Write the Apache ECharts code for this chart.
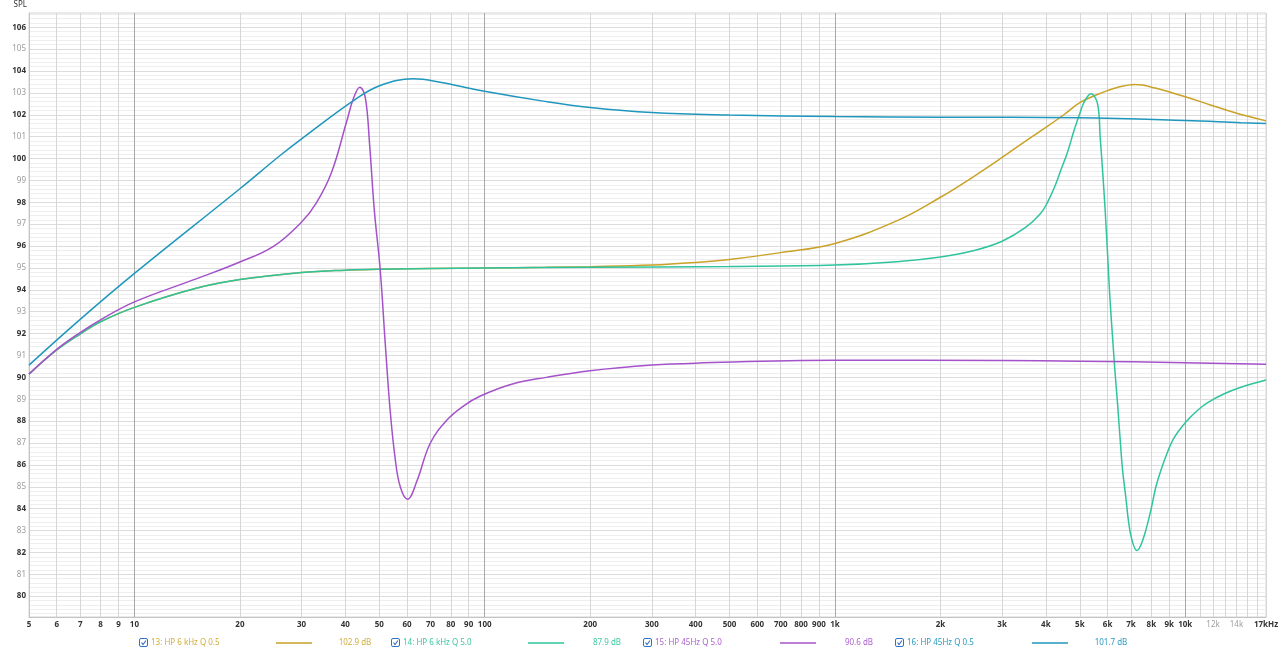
<!DOCTYPE html>
<html><head><meta charset="utf-8">
<script src="https://cdn.jsdelivr.net/npm/echarts@6/dist/echarts.min.js"></script>
<style>html,body{margin:0;padding:0;background:#fff;}#c{width:1280px;height:651px;}</style>
</head><body><div id="c"></div>
<script>
// ---- data ----
const f13 = [5,6,7,8,10,15,20,30,40,50,70,100,150,200,300,400,500,700,1000,1500,2000,2500,3000,3500,4000,4500,5000,5700,6400,7200,8200,10000,11800,13800,17000];
const db13 = [90.15,91.25,91.98,92.54,93.2,94.07,94.47,94.79,94.9,94.94,94.98,95.0,95.03,95.06,95.13,95.25,95.39,95.7,96.12,97.15,98.23,99.2,100.05,100.8,101.42,102.0,102.55,102.97,103.25,103.38,103.22,102.82,102.45,102.1,101.72];

const f14 = [5,6,7,8,10,15,20,30,40,50,100,200,500,1000,1500,2000,2500,3000,3500,3868,4043,4223,4412,4613,4815,5033,5144,5376,5618,5715,5806,5906,5999,6090,6199,6295,6406,6519,6621,6767,6870,7023,7276,7470,7720,7977,8245,8520,8906,9297,10088,10847,11586,12921,14420,17000];
const db14 = [90.15,91.25,91.98,92.54,93.2,94.07,94.47,94.79,94.9,94.94,95.0,95.03,95.07,95.13,95.28,95.5,95.8,96.22,96.85,97.5,98.0,98.65,99.46,100.3,101.29,102.2,102.58,102.96,102.5,100.98,99.46,97.63,95.66,93.68,91.85,90.33,88.81,87.14,85.77,84.5,83.55,82.65,82.09,82.34,83.03,83.94,85.0,85.75,86.6,87.25,88.0,88.5,88.85,89.25,89.55,89.88];

const f15 = [5,6,7,8,10,15,20,25,30,33,36.5,40.2,42.2,44,45.6,46.9,48.4,50.3,52,53.7,55.5,57.4,60.2,64,69.9,78,87.1,97.2,120,150,200,300,400,1000,3000,5000,10000,17000];
const db15 = [90.15,91.28,92.05,92.63,93.45,94.5,95.27,96.0,97.1,97.95,99.35,101.6,102.75,103.26,102.8,100.68,97.63,94.93,91.55,88.5,86.3,85.0,84.43,85.25,86.99,88.05,88.7,89.15,89.7,90.0,90.3,90.56,90.65,90.78,90.77,90.74,90.67,90.6];

const f16 = [5,7,10,20,26.1,30,42.2,50.3,62.5,74.5,97.2,150,200,300,500,1000,2000,5000,10000,14420,17000];
const db16 = [90.56,92.65,94.75,98.62,100.15,100.9,102.65,103.34,103.64,103.49,103.11,102.6,102.33,102.1,101.99,101.92,101.89,101.86,101.74,101.64,101.6];

const seriesNames = ['13: HP 6 kHz Q 0.5','14: HP 6 kHz Q 5.0','15: HP 45Hz Q 5.0','16: HP 45Hz Q 0.5'];
const legendValues = ['102.9 dB','87.9 dB','90.6 dB','101.7 dB'];
const lineColors = ['#c9a227','#2fc49e','#a452c9','#1f97bd'];
const textColors = ['#cfae3a','#3cc8a2','#ad62cf','#2a9cc2'];

const xTickVals = [5,6,7,8,9,10,20,30,40,50,60,70,80,90,100,200,300,400,500,600,700,800,900,1000,2000,3000,4000,5000,6000,7000,8000,9000,10000,12000,14000,17000];
const xTickText = ['5','6','7','8','9','10','20','30','40','50','60','70','80','90','100','200','300','400','500','600','700','800','900','1k','2k','3k','4k','5k','6k','7k','8k','9k','10k','12k','14k','17kHz'];
const xTickMuted = [12000,14000];
const xGridVals = [6,7,8,9,20,30,40,50,60,70,80,90,200,300,400,500,600,700,800,900,2000,3000,4000,5000,6000,7000,8000,9000,11000,12000,13000,14000,15000,16000,17000];
const xDecadeVals = [10,100,1000,10000];
const yLabelVals = [80,81,82,83,84,85,86,87,88,89,90,91,92,93,94,95,96,97,98,99,100,101,102,103,104,105,106];

// ---- build ----
const Y_MIN = 79.05, Y_MAX = 106.65;
const yMinorVals = [];
for (let v = 792; v <= 1066; v += 2) yMinorVals.push(v / 10);

const curves = [[f13,db13],[f14,db14],[f15,db15],[f16,db16]];
const series = curves.map((c, i) => ({
  name: seriesNames[i], type: 'line', xAxisIndex: 0, yAxisIndex: 0,
  data: c[0].map((f, k) => [f, c[1][k]]),
  smooth: 0.4, showSymbol: false, symbol: 'none', z: 3,
  lineStyle: { color: lineColors[i], width: 1.5 }, silent: true
}));

const markData = [];
xGridVals.forEach(v => markData.push({ xAxis: v, lineStyle: { color: '#d6d6d6', width: 1, type: 'solid' }, label: { show: false } }));
xDecadeVals.forEach(v => markData.push({ xAxis: v, lineStyle: { color: '#a8a8a8', width: 1, type: 'solid' }, label: { show: false } }));
xTickVals.forEach((v, i) => {
  const muted = xTickMuted.indexOf(v) >= 0;
  markData.push({ xAxis: v, lineStyle: { color: 'rgba(255,255,255,0)', width: 1 },
    label: { show: true, position: 'start', formatter: xTickText[i], distance: 4,
      color: muted ? '#a0a0a0' : '#333', fontWeight: muted ? 'normal' : 'bold', fontSize: 8, fontFamily: 'Noto Sans' } });
});

series.unshift({
  name: 'grid', type: 'line', data: [], z: 1, silent: true,
  markLine: { silent: true, symbol: ['none','none'], animation: false, z: 1, data: markData }
});

const graphics = [];
const legendX = [139, 391, 643, 895];
legendX.forEach((x0, i) => {
  graphics.push({ type: 'rect', shape: { x: x0 + 0.5, y: 638.5, width: 8, height: 8, r: 1.5 }, style: { fill: '#fff', stroke: '#2f72c6', lineWidth: 1 } });
  graphics.push({ type: 'polyline', shape: { points: [[x0 + 2.5, 642.5], [x0 + 4, 644.5], [x0 + 7, 640.5]] }, style: { fill: null, stroke: '#2f72c6', lineWidth: 1.1 } });
  graphics.push({ type: 'text', x: x0 + 12, y: 643, style: { text: seriesNames[i], fill: textColors[i], font: '8px "Noto Sans"', textVerticalAlign: 'middle', verticalAlign: 'middle' } });
  graphics.push({ type: 'line', shape: { x1: x0 + 137, y1: 643, x2: x0 + 173, y2: 643 }, style: { stroke: lineColors[i], lineWidth: 1.5 } });
  graphics.push({ type: 'text', x: x0 + 216, y: 643, style: { text: legendValues[i], fill: textColors[i], font: '8px "Noto Sans"', align: 'center', textAlign: 'center', verticalAlign: 'middle', textVerticalAlign: 'middle' } });
});

const chart = echarts.init(document.getElementById('c'), null, { renderer: 'canvas' });
chart.setOption({
  animation: false,
  backgroundColor: '#fff',
  grid: { left: 29, right: 14, top: 13, bottom: 34, show: true, borderColor: '#d4d4d4', borderWidth: 1, containLabel: false },
  xAxis: [{
    type: 'log', logBase: 10, min: 5, max: 17000,
    axisLine: { show: true, lineStyle: { color: '#c4c4c4' } },
    axisTick: { show: false }, axisLabel: { show: false },
    splitLine: { show: false }, minorSplitLine: { show: false }
  }],
  yAxis: [{
    type: 'value', min: Y_MIN, max: Y_MAX, position: 'left',
    name: 'SPL', nameLocation: 'end', nameGap: 4,
    nameTextStyle: { fontSize: 8, color: '#333', fontFamily: 'Noto Sans', align: 'right', verticalAlign: 'bottom', padding: [0, 2, 0, 0] },
    axisLine: { show: true, lineStyle: { color: '#c4c4c4' } },
    axisTick: { show: false, customValues: yMinorVals },
    axisLabel: {
      customValues: yLabelVals, margin: 3,
      formatter: v => (Math.round(v) % 2 === 0 ? '{b|' : '{g|') + Math.round(v) + '}',
      rich: {
        b: { fontSize: 8, fontWeight: 'bold', color: '#333', fontFamily: 'Noto Sans' },
        g: { fontSize: 8, color: '#9a9a9a', fontFamily: 'Noto Sans' }
      }
    },
    splitLine: { show: true, lineStyle: { color: '#eeeeee', width: 1 } }
  }, {
    type: 'value', min: Y_MIN, max: Y_MAX, position: 'left',
    axisLine: { show: false }, axisLabel: { show: false },
    axisTick: { show: false, customValues: yLabelVals },
    splitLine: { show: true, lineStyle: { color: '#dcdcdc', width: 1 } }
  }],
  series: series,
  graphic: graphics
});
</script>
</body></html>
